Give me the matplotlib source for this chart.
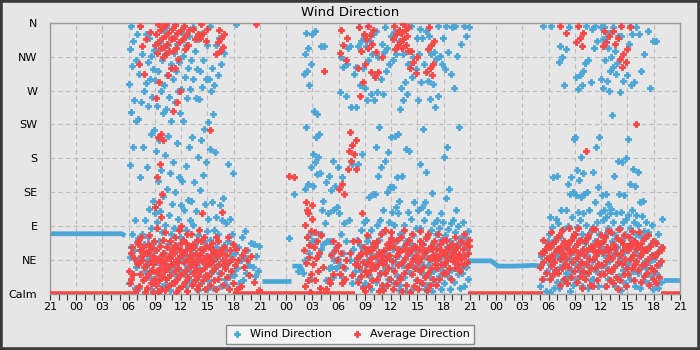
import numpy as np
import matplotlib
matplotlib.use("Agg")
import matplotlib.pyplot as plt
from matplotlib.patches import Rectangle

# hours run from 21:00 on day one (0) to 21:00 three days later (72)
hour_labels = ['21', '00', '03', '06', '09', '12', '15', '18'] * 3 + ['21']
dir_labels = ['Calm', 'NE', 'E', 'SE', 'S', 'SW', 'W', 'NW', 'N']

# steady overnight wind direction (hour, degrees)
night1_hours = [0, 8.2, 8.6]
night1_dirs = [80, 80, 77]
night2a_hours = [24.2, 27.6]
night2a_dirs = [17, 17]
night2b_hours = [27.7, 28.6, 28.9]
night2b_dirs = [37, 37, 30]
night3_hours = [48, 50.4, 51.2, 53.2, 55.2, 56.4]
night3_dirs = [44, 44, 37, 37, 38, 37]
night4_hours = [70.1, 72]
night4_dirs = [18, 18]

# periods where the average direction sits at calm
calm_start = [0, 20.9, 47.8, 69.8]
calm_end = [10.2, 34.9, 56.4, 72]

# daytime readings, one list per hour
day1_start = 9
blue_day1 = [
    [356, 345, 336, 325, 310, 303, 279, 257, 241, 230, 195, 171, 98, 80, 69, 58, 49, 36, 27, 14, 8, 62, 44],
    [356, 345, 319, 292, 270, 255, 232, 195, 155, 98, 80, 74, 66, 58, 36, 18, 8, 30, 48],
    [340, 324, 316, 308, 298, 286, 280, 262, 250, 217, 212, 168, 124, 113, 108, 88, 75, 60, 52, 40, 30, 22, 14, 6, 45, 68],
    [358, 350, 335, 322, 310, 296, 284, 270, 250, 240, 205, 190, 165, 150, 130, 110, 95, 82, 70, 58, 50, 42, 35, 25, 18, 10, 4],
    [355, 340, 330, 318, 305, 290, 278, 262, 245, 230, 210, 185, 160, 140, 120, 105, 92, 80, 66, 55, 48, 38, 30, 22, 12, 5],
    [358, 348, 332, 320, 308, 296, 285, 270, 255, 240, 200, 175, 155, 135, 118, 100, 88, 76, 64, 56, 46, 40, 32, 24, 16, 8],
    [356, 342, 330, 316, 300, 288, 272, 260, 230, 195, 170, 150, 125, 112, 98, 85, 72, 62, 52, 44, 36, 26, 18, 10],
    [354, 338, 322, 310, 298, 285, 272, 260, 208, 182, 149, 124, 110, 91, 78, 66, 55, 46, 38, 30, 20, 12, 5],
    [345, 330, 310, 296, 285, 275, 259, 219, 204, 175, 158, 138, 120, 107, 83, 70, 60, 50, 42, 34, 24, 14, 6],
    [356, 330, 300, 285, 278, 270, 228, 239, 193, 188, 122, 100, 85, 72, 62, 52, 44, 36, 28, 18, 8],
    [340, 320, 305, 290, 127, 118, 102, 98, 80, 65, 55, 48, 38, 28, 20, 10],
    [173, 160, 100, 94, 80, 70, 58, 50, 40, 30, 22, 12],
    [358, 75, 62, 55, 45, 35, 25, 15],
    [83, 68, 58, 50, 38, 28, 18],
    [67, 64, 50, 36, 30, 24],
]
red_day1 = [
    [54, 41, 27, 14, 5, 62, 30, 48, 20],
    [356, 338, 329, 305, 292, 76, 71, 63, 58, 54, 45, 40, 36, 27, 22, 18, 10, 3, 50, 66],
    [78, 70, 62, 55, 50, 44, 38, 32, 26, 20, 14, 8, 3, 58, 46, 30, 66, 40, 348],
    [358, 354, 350, 345, 340, 335, 330, 326, 320, 315, 282, 260, 212, 208, 204, 173, 155, 133, 122, 116, 102, 88,
     72, 64, 58, 52, 46, 40, 35, 30, 24, 18, 12, 6, 2, 55, 42, 28],
    [358, 352, 347, 342, 338, 332, 328, 322, 318, 300, 290, 82, 70, 62, 56, 50, 45, 40, 36, 30, 25, 20, 15, 10, 5, 48, 33, 60],
    [357, 351, 346, 340, 334, 327, 322, 312, 300, 270, 255, 243, 85, 75, 68, 60, 55, 50, 45, 40, 35, 30, 25, 20, 14, 8, 3, 58, 42, 65],
    [356, 350, 344, 338, 330, 325, 90, 80, 72, 64, 58, 52, 47, 42, 37, 32, 28, 22, 16, 10, 4, 55, 45, 68],
    [352, 345, 338, 80, 72, 66, 60, 55, 50, 46, 42, 38, 33, 28, 24, 18, 12, 6, 62, 52, 40],
    [358, 352, 346, 340, 336, 108, 85, 76, 70, 64, 58, 52, 48, 44, 40, 35, 30, 25, 18, 12, 6, 60, 50],
    [217, 75, 68, 62, 56, 52, 48, 44, 40, 35, 30, 24, 18, 12, 6, 58, 46],
    [350, 345, 340, 335, 328, 322, 318, 109, 70, 62, 55, 50, 45, 40, 34, 28, 20, 12, 58],
    [75, 66, 58, 52, 47, 42, 37, 30, 22, 14, 6],
    [60, 52, 45, 38, 10, 6],
    [58, 50, 45, 36, 25],
    [16, 5, 358],
]

day2_start = 27
blue_day2 = [
    [74, 133],
    [30, 28],
    [347, 345, 327, 318, 305, 296, 292, 277, 221, 168, 146, 140, 80, 76, 70, 54, 45, 20],
    [349, 329, 239, 243, 212, 208, 186, 182, 175, 161, 159, 144, 80, 70, 60, 50],
    [329, 157, 149, 124, 107, 94, 80, 71, 67, 34, 18, 111],
    [177, 168, 144, 138, 116, 111, 71, 63, 54, 47, 45, 36, 34, 23],
    [314, 305, 301, 268, 263, 155, 107, 94, 80, 71, 54, 38, 34, 23],
    [329, 301, 173, 98, 292, 248, 327, 60, 45, 30, 15],
    [354, 343, 336, 329, 300, 277, 248, 186, 173, 96, 85, 72, 60, 50, 40, 30, 20, 10, 65, 45],
    [356, 345, 336, 329, 319, 310, 274, 266, 257, 133, 129, 98, 85, 75, 65, 55, 45, 36, 25, 15, 6, 70, 50],
    [349, 332, 314, 292, 285, 268, 257, 221, 195, 168, 157, 133, 98, 91, 82, 72, 62, 52, 44, 36, 26, 16, 8],
    [354, 343, 327, 321, 305, 296, 266, 188, 177, 142, 135, 111, 95, 84, 74, 64, 54, 46, 38, 30, 20, 10],
    [348, 336, 318, 310, 212, 210, 208, 155, 142, 124, 116, 109, 107, 92, 80, 70, 60, 50, 42, 34, 24, 14, 5],
    [318, 305, 281, 274, 266, 257, 246, 193, 157, 109, 91, 80, 70, 62, 54, 46, 38, 30, 22, 12, 4],
    [356, 340, 314, 305, 299, 288, 190, 122, 100, 88, 78, 68, 60, 52, 44, 36, 28, 18, 8],
    [352, 349, 340, 318, 305, 281, 257, 219, 173, 122, 116, 111, 98, 88, 76, 66, 58, 50, 42, 34, 26, 16, 6],
    [343, 321, 318, 283, 279, 259, 162, 134, 109, 94, 85, 76, 68, 60, 52, 45, 38, 30, 22, 12, 4],
    [356, 340, 316, 312, 305, 263, 248, 107, 98, 96, 88, 80, 72, 64, 56, 48, 40, 32, 24, 14, 6],
    [356, 354, 321, 299, 292, 195, 182, 140, 127, 94, 86, 78, 70, 62, 55, 48, 40, 32, 24, 15, 6],
    [356, 332, 316, 274, 221, 111, 98, 90, 82, 74, 66, 58, 50, 42, 34, 26, 16, 8],
    [356, 354, 343, 96, 84, 76, 68, 60, 52, 44, 36, 28, 20, 10],
]
red_day2 = [
    [156, 155],
    [],
    [122, 118, 107, 91, 83, 76, 58, 49, 41, 27, 18, 10, 3, 112, 100, 65],
    [82, 78, 70, 62, 55, 48, 40, 30, 18, 8],
    [296, 18, 7, 36],
    [71, 65, 58, 52, 45, 27, 14],
    [350, 340, 330, 320, 310, 146, 140, 133, 54, 45, 36, 27, 20, 14],
    [215, 205, 198, 190, 186, 177, 166, 70, 55, 40, 25],
    [354, 345, 323, 300, 281, 263, 166, 107, 70, 62, 55, 48, 42, 36, 30, 24, 16, 8, 52, 40],
    [356, 350, 344, 338, 332, 326, 305, 295, 78, 68, 60, 54, 48, 43, 38, 32, 26, 18, 10, 4, 58, 40],
    [321, 315, 294, 288, 80, 70, 62, 56, 50, 45, 40, 34, 28, 20, 12, 4, 66, 52],
    [85, 74, 66, 58, 52, 46, 40, 35, 28, 20, 12, 5, 62, 48, 70],
    [356, 350, 345, 338, 330, 325, 82, 72, 64, 56, 50, 44, 38, 30, 22, 14, 6, 60],
    [358, 354, 350, 346, 342, 338, 334, 330, 326, 322, 85, 75, 66, 60, 54, 48, 42, 36, 28, 20, 12, 4, 58],
    [322, 315, 308, 300, 293, 80, 72, 64, 58, 52, 46, 40, 34, 26, 18, 10, 3, 62],
    [84, 74, 66, 60, 54, 48, 42, 36, 30, 22, 14, 6, 58, 70],
    [355, 336, 330, 325, 305, 300, 295, 290, 80, 70, 64, 58, 52, 46, 40, 34, 28, 20, 12, 5, 60, 48],
    [80, 72, 66, 60, 55, 50, 45, 40, 35, 28, 20, 12, 58, 48],
    [72, 66, 60, 55, 50, 45, 40, 35, 28, 20, 62, 52],
    [76, 70, 64, 58, 53, 48, 44, 40, 35, 30, 62, 55],
    [79, 72, 66, 60, 55, 50, 46, 42, 38, 64],
]

day3_start = 56
blue_day3 = [
    [356, 70, 60, 50, 30, 20, 10, 4],
    [356, 157, 155, 102, 100, 89, 80, 72, 64, 56, 48, 40, 32, 24, 16, 8, 2],
    [329, 325, 314, 308, 277, 111, 94, 86, 76, 68, 60, 52, 44, 36, 28, 18, 8],
    [354, 206, 155, 146, 135, 133, 111, 102, 90, 80, 72, 64, 56, 48, 40, 32, 22, 12, 4],
    [356, 296, 290, 288, 277, 272, 208, 182, 164, 160, 151, 131, 129, 109, 107, 98, 89, 80, 72, 64, 56, 48, 40, 30, 20, 10],
    [356, 352, 310, 306, 281, 135, 133, 111, 92, 84, 76, 68, 60, 52, 44, 36, 28, 18, 8],
    [356, 354, 336, 327, 208, 195, 162, 142, 122, 107, 96, 89, 80, 70, 62, 54, 46, 38, 30, 20, 10],
    [354, 347, 340, 338, 327, 310, 285, 283, 274, 270, 133, 131, 120, 111, 107, 102, 98, 88, 78, 68, 60, 52, 44, 36, 28, 20, 10],
    [354, 343, 323, 314, 307, 301, 296, 292, 237, 177, 157, 113, 107, 95, 86, 78, 70, 62, 54, 46, 38, 30, 20, 10],
    [343, 290, 283, 268, 180, 175, 133, 131, 109, 100, 96, 88, 80, 72, 64, 56, 48, 40, 32, 24, 14, 5],
    [356, 354, 345, 332, 281, 277, 206, 166, 146, 144, 111, 105, 96, 88, 80, 72, 64, 56, 48, 40, 30, 20, 10],
    [345, 319, 296, 162, 124, 122, 105, 103, 92, 84, 76, 68, 60, 52, 44, 36, 28, 18, 8],
    [349, 336, 274, 96, 91, 82, 74, 66, 58, 50, 42, 34, 24, 14, 6],
    [336, 100, 80, 70, 62, 54, 46, 38, 28, 16, 8],
]
red_day3 = [
    [72, 66, 60, 54, 48, 42, 36, 28, 20, 64, 56],
    [82, 75, 68, 62, 57, 52, 47, 42, 37, 32, 26, 20, 70, 50, 60],
    [356, 347, 85, 78, 70, 64, 58, 52, 46, 40, 34, 28, 20, 12, 62, 55],
    [88, 80, 72, 66, 60, 54, 48, 42, 36, 30, 22, 14, 75, 58],
    [356, 347, 340, 335, 329, 88, 80, 72, 66, 60, 54, 48, 42, 36, 30, 24, 16, 8, 70, 58],
    [190, 86, 78, 70, 64, 58, 52, 46, 40, 34, 28, 20, 12, 74, 60],
    [86, 78, 70, 64, 58, 52, 46, 40, 34, 26, 18, 10, 66, 56],
    [349, 343, 334, 329, 84, 76, 68, 62, 56, 50, 44, 38, 32, 26, 18, 10, 70, 58],
    [349, 340, 332, 82, 74, 66, 60, 54, 48, 42, 36, 30, 22, 14, 6, 62],
    [356, 325, 318, 312, 308, 301, 86, 78, 70, 64, 58, 52, 46, 40, 34, 26, 18, 10, 66],
    [354, 226, 84, 76, 70, 64, 58, 52, 46, 40, 34, 26, 18, 66, 60],
    [82, 74, 68, 62, 56, 50, 44, 38, 32, 24, 16, 66, 58],
    [78, 70, 64, 58, 52, 46, 40, 34, 28, 20, 12, 60],
    [68, 62, 56, 50, 44, 38, 30, 22, 14, 58],
]


def hourly_points(start, blocks):
    # readings are grouped by hour; spread them over their hour
    xs, ys = [], []
    for i, vals in enumerate(blocks):
        n = len(vals)
        offs = ((np.arange(n) + 0.5) * 0.618034) % 1.0
        xs.extend(start + i + offs)
        ys.extend(vals)
    return xs, ys


blue_col = '#4ba6d8'
red_col = '#ff4646'
bg = '#e6e6e6'

fig = plt.figure(figsize=(7, 3.5), dpi=100, facecolor=bg)
ax = fig.add_axes([0.0714, 0.16, 0.9, 0.775])
ax.set_facecolor(bg)

bx, by = [], []
rx, ry = [], []
for start, bl, rl in [(day1_start, blue_day1, red_day1),
                      (day2_start, blue_day2, red_day2),
                      (day3_start, blue_day3, red_day3)]:
    x, y = hourly_points(start, bl)
    bx += x
    by += y
    x, y = hourly_points(start, rl)
    rx += x
    ry += y

for hh, dd in [(night1_hours, night1_dirs), (night2a_hours, night2a_dirs),
               (night2b_hours, night2b_dirs), (night3_hours, night3_dirs),
               (night4_hours, night4_dirs)]:
    ax.plot(hh, dd, color=blue_col, lw=3.4, solid_capstyle='butt', zorder=2)

ax.hlines([0] * len(calm_start), calm_start, calm_end, color=red_col, lw=4, zorder=3)

ax.scatter(bx, by, marker='P', s=20, color=blue_col, edgecolors=blue_col, linewidths=0.6,
           zorder=2, label='Wind Direction')
ax.scatter(rx, ry, marker='P', s=20, color=red_col, edgecolors=red_col, linewidths=0.6,
           zorder=3, label='Average Direction')

ax.set_xlim(0, 72)
ax.set_ylim(0, 360)
ax.set_xticks(np.arange(0, 73, 3))
ax.set_xticklabels(hour_labels)
ax.set_xticks(np.arange(0, 73, 1), minor=True)
ax.set_yticks(np.arange(0, 361, 45))
ax.set_yticklabels(dir_labels)
ax.tick_params(axis='x', which='both', length=4, width=0.8, color='#333333', labelsize=8, pad=2)
ax.tick_params(axis='y', length=0, labelsize=8, pad=9)

ax.grid(True, color='#bdbdbd', linestyle=(0, (4, 3)), linewidth=0.8)
ax.set_axisbelow(True)
for s in ax.spines.values():
    s.set_color('#9a9a9a')
    s.set_linewidth(1)

fig.text(0.5, 0.965, 'Wind Direction', ha='center', va='center', fontsize=9.5)

leg = fig.legend(handles=ax.collections[-2:], loc='lower center', bbox_to_anchor=(0.5, 0.002),
                 ncol=2, fontsize=8, frameon=True, fancybox=False, edgecolor='#8a8a8a',
                 facecolor='#f4f4f4', framealpha=1, handletextpad=0.6, columnspacing=1.6,
                 borderpad=0.4, handlelength=1.2)
leg.get_frame().set_linewidth(1)

fig.patches.append(Rectangle((0, 0), 1, 1, transform=fig.transFigure, fill=False,
                             edgecolor='#3a3a3a', linewidth=4, zorder=10))

fig.savefig('out.png', dpi=100, facecolor=bg)
